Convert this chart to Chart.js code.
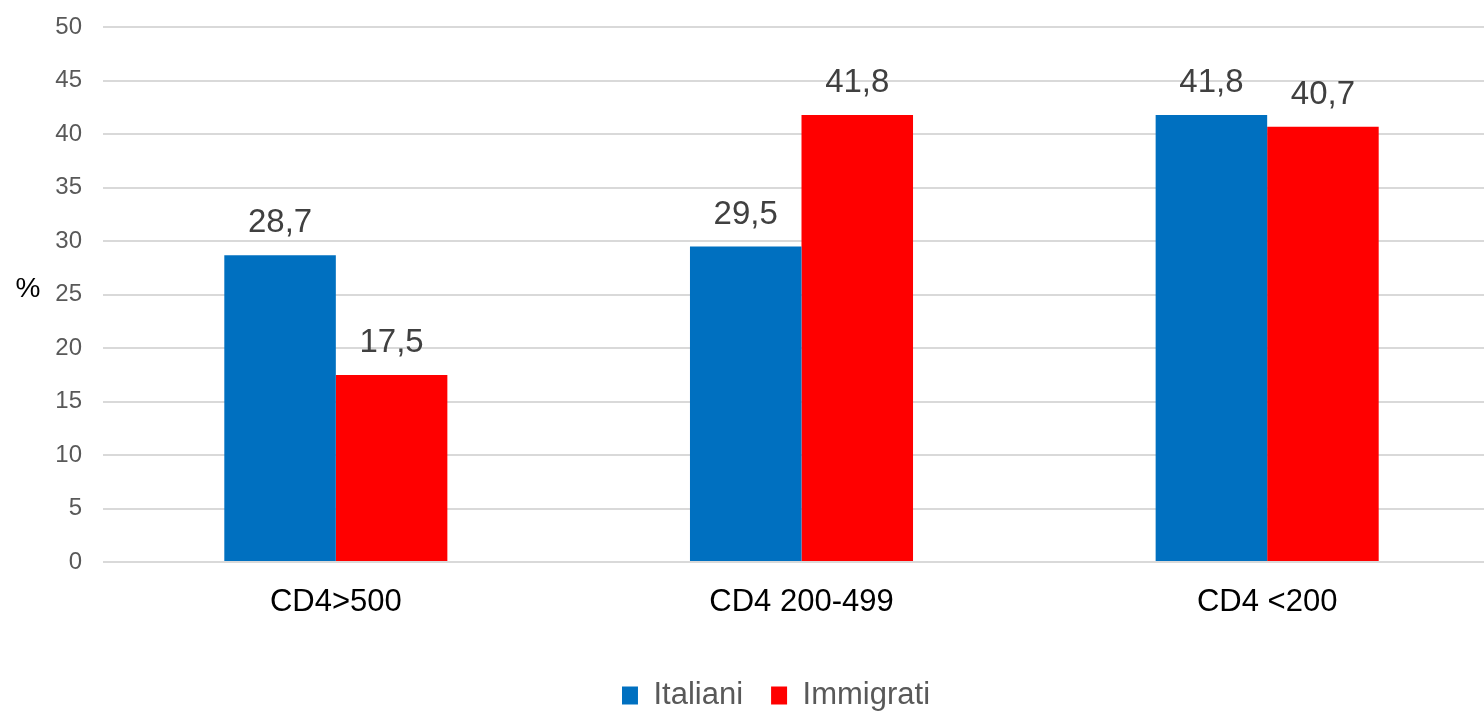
<!DOCTYPE html>
<html>
<head>
<meta charset="utf-8">
<script src="https://cdn.jsdelivr.net/npm/chart.js@4/dist/chart.umd.min.js"></script>
<style>
  html, body { margin: 0; padding: 0; overflow: hidden; background: #fff; }
  #wrap { position: absolute; left: 0; top: -8px; width: 1500px; height: 729px; }
</style>
</head>
<body>
<div id="wrap"><canvas id="chart"></canvas></div>
<script>
// Dati
const categories = ["CD4>500", "CD4 200-499", "CD4 <200"];
const italiani = [28.7, 29.5, 41.8];
const immigrati = [17.5, 41.8, 40.7];
const seriesNames = ["Italiani", "Immigrati"];
const yTicks = [0, 5, 10, 15, 20, 25, 30, 35, 40, 45, 50];

const FONT = "'Liberation Sans', Arial, sans-serif";

// Etichette dei valori sopra le barre (virgola decimale)
const valueLabels = {
  id: "valueLabels",
  afterDatasetsDraw(chart) {
    const ctx = chart.ctx;
    ctx.save();
    ctx.font = "33px " + FONT;
    ctx.fillStyle = "#404040";
    ctx.textAlign = "center";
    ctx.textBaseline = "alphabetic";
    chart.data.datasets.forEach((ds, i) => {
      chart.getDatasetMeta(i).data.forEach((bar, j) => {
        ctx.fillText(ds.data[j].toFixed(1).replace(".", ","), bar.x, bar.y - 23);
      });
    });
    ctx.restore();
  }
};

// Simbolo "%" a sinistra dell'asse Y
const percentLabel = {
  id: "percentLabel",
  afterDraw(chart) {
    const ctx = chart.ctx;
    ctx.save();
    ctx.font = "28px " + FONT;
    ctx.fillStyle = "#000000";
    ctx.textAlign = "center";
    ctx.textBaseline = "middle";
    ctx.fillText("%", 28, 297);
    ctx.restore();
  }
};

new Chart(document.getElementById("chart"), {
  type: "bar",
  data: {
    labels: categories,
    datasets: [
      { label: seriesNames[0], data: italiani, backgroundColor: "#0070C0" },
      { label: seriesNames[1], data: immigrati, backgroundColor: "#FF0000" }
    ]
  },
  options: {
    responsive: true,
    maintainAspectRatio: false,
    animation: false,
    devicePixelRatio: 1,
    layout: { padding: { left: 52, top: 0, right: 0, bottom: 0 } },
    datasets: { bar: { categoryPercentage: 0.479, barPercentage: 1 } },
    plugins: {
      tooltip: { enabled: false },
      legend: {
        position: "bottom",
        labels: {
          boxWidth: 16,
          boxHeight: 18,
          padding: 28,
          color: "#595959",
          font: { family: FONT, size: 31 }
        }
      }
    },
    scales: {
      x: {
        grid: { display: false },
        border: { display: false },
        ticks: {
          color: "#000000",
          padding: 14,
          font: { family: FONT, size: 31 }
        },
        afterFit(scale) { scale.height = 90; }
      },
      y: {
        min: 0,
        max: 50,
        grid: { color: "#d9d9d9", lineWidth: 2, drawTicks: false },
        border: { display: false },
        afterBuildTicks(scale) { scale.ticks = yTicks.map((v) => ({ value: v })); },
        ticks: {
          color: "#595959",
          padding: 21,
          font: { family: FONT, size: 24 }
        },
        afterFit(scale) { scale.width = 51; }
      }
    }
  },
  plugins: [valueLabels, percentLabel]
});
</script>
</body>
</html>
